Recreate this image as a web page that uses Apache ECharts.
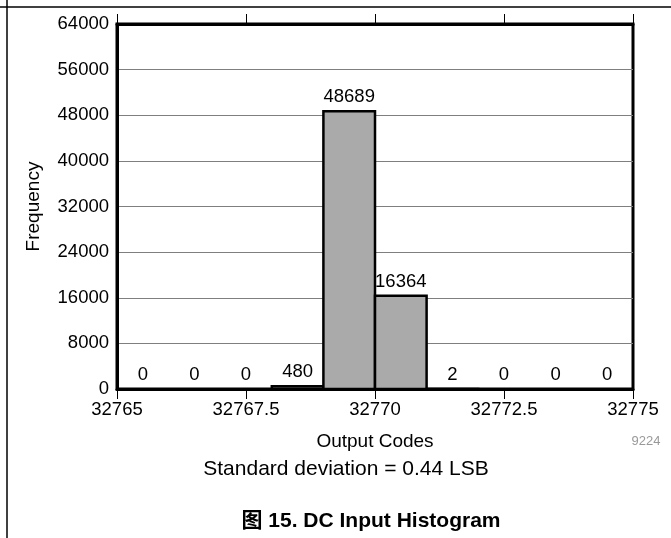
<!DOCTYPE html>
<html>
<head>
<meta charset="utf-8">
<script src="https://cdn.jsdelivr.net/npm/echarts@6/dist/echarts.min.js"></script>
<style>html,body{margin:0;padding:0;background:#fff}#c{width:671px;height:538px}</style>
</head>
<body>
<div id="c"></div>
<script>
var binStarts = [32765, 32766, 32767, 32768, 32769, 32770, 32771, 32772, 32773, 32774];
var binWidth = 1;
var counts = [0, 0, 0, 480, 48689, 16364, 2, 0, 0, 0];
var xTicks = [32765, 32767.5, 32770, 32772.5, 32775];
var yTicks = [0, 8000, 16000, 24000, 32000, 40000, 48000, 56000, 64000];

var FONT = 'Liberation Sans, Arial, Noto Sans CJK SC, sans-serif';
var data = binStarts.map(function (s, i) { return [s, s + binWidth, counts[i]]; });

var chart = echarts.init(document.getElementById('c'));
chart.setOption({
  animation: false,
  backgroundColor: '#fff',
  grid: { left: 117, right: 38, top: 24, bottom: 149, show: true, borderColor: '#000', borderWidth: 3, backgroundColor: 'transparent' },
  xAxis: [{
    type: 'value', min: xTicks[0], max: xTicks[xTicks.length - 1], interval: 2.5,
    position: 'bottom',
    name: 'Output Codes', nameLocation: 'middle', nameGap: 43,
    nameTextStyle: { fontFamily: FONT, fontSize: 19, color: '#000' },
    axisLine: { show: true, lineStyle: { color: '#000', width: 3 } },
    axisTick: { show: true, inside: false, length: 10, lineStyle: { color: '#000', width: 1 } },
    axisLabel: { fontFamily: FONT, fontSize: 18.5, color: '#000', margin: 12,
      formatter: function (v) { return String(v); } },
    splitLine: { show: false }
  }, {
    type: 'value', min: xTicks[0], max: xTicks[xTicks.length - 1], interval: 2.5,
    position: 'top',
    axisLine: { show: true, lineStyle: { color: '#000', width: 3 } },
    axisTick: { show: true, inside: false, length: 10, lineStyle: { color: '#000', width: 1 } },
    axisLabel: { show: false },
    splitLine: { show: false }
  }],
  yAxis: {
    type: 'value', min: yTicks[0], max: yTicks[yTicks.length - 1], interval: 8000,
    name: 'Frequency', nameLocation: 'middle', nameGap: 74, nameRotate: 90,
    nameTextStyle: { fontFamily: FONT, fontSize: 19, color: '#000' },
    axisLine: { show: true, lineStyle: { color: '#000', width: 3 } },
    axisTick: { show: false },
    axisLabel: { fontFamily: FONT, fontSize: 18.5, color: '#000', margin: 8,
      formatter: function (v) { return String(v); } },
    splitLine: { show: true, lineStyle: { color: '#7f7f7f', width: 1 } }
  },
  series: [{
    type: 'custom',
    xAxisIndex: 0,
    data: data,
    renderItem: function (params, api) {
      var x0 = api.value(0), x1 = api.value(1), c = api.value(2);
      var tl = api.coord([x0, c]);
      var br = api.coord([x1, 0]);
      var children = [];
      if (c > 0) {
        children.push({
          type: 'rect',
          shape: { x: tl[0], y: tl[1], width: br[0] - tl[0], height: br[1] - tl[1] },
          style: { fill: '#aaaaaa', stroke: '#000', lineWidth: 2.5 }
        });
      }
      children.push({
        type: 'text',
        style: {
          text: String(c), x: (tl[0] + br[0]) / 2, y: tl[1] - 5,
          align: 'center', verticalAlign: 'bottom',
          fontFamily: FONT, fontSize: 18.5, fill: '#000'
        }
      });
      return { type: 'group', children: children };
    },
    z: 3
  }],
  graphic: [
    { type: 'line', shape: { x1: 0, y1: 7, x2: 671, y2: 7 }, style: { stroke: '#000', lineWidth: 1.5 } },
    { type: 'line', shape: { x1: 7, y1: 0, x2: 7, y2: 538 }, style: { stroke: '#000', lineWidth: 1.5 } },
    { type: 'text', x: 646, y: 441, style: { text: '9224', align: 'center', verticalAlign: 'middle', fontFamily: FONT, fontSize: 13, fill: '#999' } },
    { type: 'text', x: 346, y: 469, style: { text: 'Standard deviation = 0.44 LSB', align: 'center', verticalAlign: 'middle', fontFamily: FONT, fontSize: 21, fill: '#000' } },
    { type: 'text', x: 371, y: 521, style: { text: '图 15. DC Input Histogram', align: 'center', verticalAlign: 'middle', fontFamily: FONT, fontSize: 21, fontWeight: 'bold', fill: '#000' } }
  ]
});
</script>
</body>
</html>
